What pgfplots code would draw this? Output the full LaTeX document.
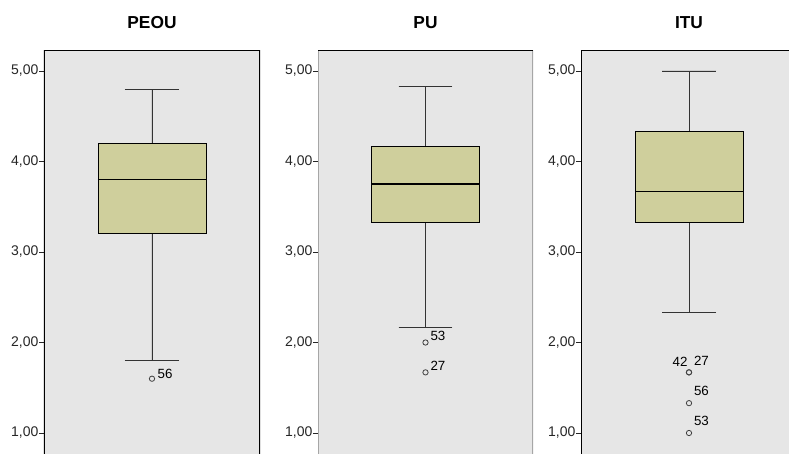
\documentclass[border=0pt]{standalone}
\usepackage{fontspec}
\setmainfont{Liberation Sans}
\usepackage{pgfplots}
\pgfplotsset{compat=1.18}
\usepgfplotslibrary{statistics}
\definecolor{panelbg}{RGB}{230,230,230}
\definecolor{boxfill}{RGB}{207,207,156}
\pgfplotsset{
  spss/.style={
    scale only axis, width=162pt, height=303pt,
    xmin=0, xmax=1, ymin=0.768, ymax=5.232,
    xtick=\empty, ytick={1,2,3,4,5}, ytick pos=left,
    axis line style={draw=none},
    axis background/.style={fill=panelbg},
    tick align=outside, major tick length=3.5pt,
    ytick style={black!85, line width=0.6pt},
    yticklabel style={font=\fontsize{10.5}{12}\selectfont, text=black!85, inner sep=0.5pt},
    /pgf/number format/fixed, /pgf/number format/fixed zerofill,
    /pgf/number format/precision=2, /pgf/number format/use comma,
    /pgf/number format/assume math mode=true,
    title style={at={(0.5,1)}, anchor=base, yshift=10.5pt, font=\bfseries\fontsize{13}{15}\selectfont},
    boxplot/draw direction=y,
    boxplot/box extend=0.5, boxplot/whisker extend=0.25,
    anchor=south west,
  },
  bx/.style={fill=boxfill, draw=black, line width=0.7pt,
    boxplot/every median/.style={line width=1.2pt},
    boxplot/every whisker/.style={black!80, line width=0.7pt}},
  outl/.style={only marks, mark=o, mark size=2pt, black!75,
    mark options={line width=0.6pt},
    point meta=explicit symbolic, nodes near coords,
    every node near coord/.append style={inner sep=0pt, font=\fontsize{10}{12}\selectfont, text=black}},
}
\begin{document}
\begin{tikzpicture}
% PEOU
\begin{axis}[spss, at={(33pt,0pt)}, title={PEOU}]
\addplot[bx, boxplot prepared={draw position=0.5, median=3.8, upper quartile=4.2,
  lower quartile=3.2, upper whisker=4.8, lower whisker=1.8}] coordinates {};
\addplot[outl, every node near coord/.append style={anchor=base west, xshift=4pt, yshift=0.5pt}]
  table[meta=label] {
x y label
0.5 1.6 56
};
\draw[black, line width=0.8pt] (rel axis cs:0,0) -- (rel axis cs:0,1) -- (rel axis cs:1,1) -- (rel axis cs:1,0);
\end{axis}
% PU
\begin{axis}[spss, at={(238.5pt,0pt)}, width=161.25pt, title={PU}]
\addplot[bx, boxplot prepared={draw position=0.5, median=3.75, upper quartile=4.17,
  lower quartile=3.33, upper whisker=4.83, lower whisker=2.17}] coordinates {};
\addplot[outl, every node near coord/.append style={anchor=base west, xshift=3.5pt, yshift=1.5pt}]
  table[meta=label] {
x y label
0.5 2.0 53
0.5 1.67 27
};
\draw[black!35, line width=0.8pt] (rel axis cs:0,0) -- (rel axis cs:0,1);
\draw[black!35, line width=0.8pt] (rel axis cs:1,0) -- (rel axis cs:1,1);
\draw[black, line width=0.8pt] (rel axis cs:0,1) -- (rel axis cs:1,1);
\end{axis}
% ITU
\begin{axis}[spss, at={(435.75pt,0pt)}, title={ITU}]
\addplot[bx, boxplot prepared={draw position=0.5, median=3.67, upper quartile=4.33,
  lower quartile=3.33, upper whisker=5.0, lower whisker=2.33}] coordinates {};
\addplot[outl, every node near coord/.append style={anchor=base west, xshift=3.5pt, yshift=5.5pt}]
  table[meta=label] {
x y label
0.5 1.67 27
0.5 1.33 56
0.5 1.0 53
};
\addplot[outl, every node near coord/.append style={anchor=base east, xshift=-0.8pt, yshift=4.5pt}]
  table[meta=label] {
x y label
0.5 1.67 42
};
\draw[black, line width=0.8pt] (rel axis cs:0,0) -- (rel axis cs:0,1) -- (rel axis cs:1,1) -- (rel axis cs:1,0);
\end{axis}
\pgfresetboundingbox
\useasboundingbox (0pt,0pt) rectangle (591.75pt,340.5pt);
\end{tikzpicture}
\end{document}
